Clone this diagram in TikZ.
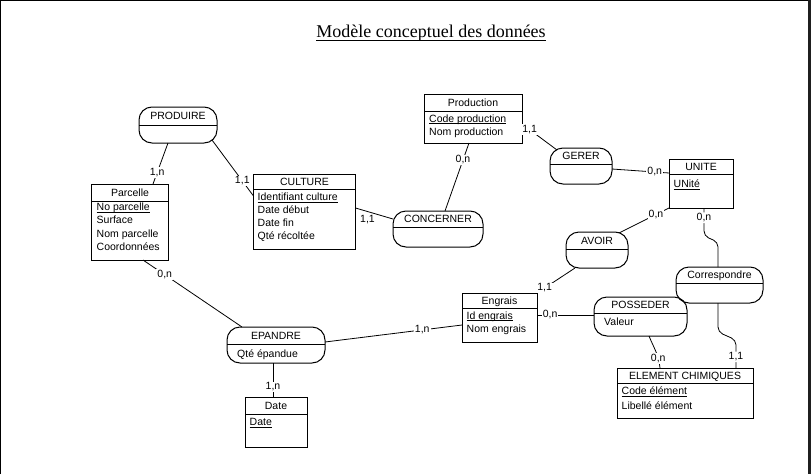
\documentclass[tikz,border=0pt]{standalone}
\usepackage{fontspec}
\setmainfont{Liberation Sans}
\newfontfamily\titlefont{Liberation Serif}
\newcommand\ul[1]{\setbox0\hbox{#1}\rlap{\rule[-2pt]{\wd0}{1.3pt}}\box0}
\newcommand\mkent[7]{%
  \node[ent, minimum width={#4-#2}, minimum height={#5-#3}] (#1) at (#2,#3) {};
  \draw[boxline] (#2,#6) -- (#4,#6);
  \node[hd] (#1-h) at ({(#2+#4)/2},{(#3+#6)/2+3.8}) {#7};}
\newcommand\mkasc[7]{%
  \node[asc, minimum width={#4-#2}, minimum height={#5-#3}] (#1) at (#2,#3) {};
  \draw[boxline] (#2,#6) -- (#4,#6);
  \node[hd] (#1-h) at ({(#2+#4)/2},{(#3+#6)/2+3.8}) {#7};}
\newcommand\mkatt[4]{\node[att] (#1) at (#2,{#3+3.8}) {#4};}
\begin{document}
\begin{tikzpicture}[x=1pt,y=-1pt,
  font=\fontsize{10.5}{12}\selectfont,
  boxline/.style={line width=1pt},
  ent/.style={draw, line width=1pt, inner sep=0pt, outer sep=0pt, anchor=north west},
  asc/.style={draw, line width=1pt, rounded corners=13pt, inner sep=0pt, outer sep=0pt, anchor=north west},
  lnk/.style={line width=0.8pt},
  card/.style={fill=white, inner sep=1pt},
  att/.style={anchor=base west, inner sep=0pt},
  hd/.style={anchor=base, inner sep=0pt}]
\useasboundingbox (0,0) rectangle (811,474);
% frame
\fill[black!88] (808,0) rectangle (811,474);
\draw[line width=1.2pt] (0.6,474) -- (0.6,0.6) -- (808,0.6);
% title
\node[anchor=base, inner sep=0pt, font=\titlefont\fontsize{18}{20}\selectfont] (title) at (431,37) {Modèle conceptuel des données};
\draw[line width=1.4pt] ([yshift=-3.7pt]title.base west) -- ([yshift=-3.7pt]title.base east);
% entities
\mkent{parc}{91.5}{184}{168.5}{260}{201}{Parcelle}
\mkatt{parc-a1}{96.5}{207}{\ul{No parcelle}}
\mkatt{parc-a2}{96.5}{220}{Surface}
\mkatt{parc-a3}{96.5}{233.5}{Nom parcelle}
\mkatt{parc-a4}{96.5}{246.5}{Coordonnées}
\mkent{cult}{253.5}{174}{355.5}{249.5}{189}{CULTURE}
\mkatt{cult-a1}{257.5}{197}{\ul{Identifiant culture}}
\mkatt{cult-a2}{257.5}{210}{Date début}
\mkatt{cult-a3}{257.5}{223}{Date fin}
\mkatt{cult-a4}{257.5}{236}{Qté récoltée}
\mkent{prod}{424}{94}{522}{143}{111}{Production}
\mkatt{prod-a1}{429}{118.5}{\ul{Code production}}
\mkatt{prod-a2}{429}{132}{Nom production}
\mkent{unite}{669}{159}{733}{208}{174}{UNITE}
\mkatt{unite-a1}{673.5}{184}{\ul{UNité}}
\mkent{engr}{462}{293}{537}{342}{308}{Engrais}
\mkatt{engr-a1}{466.5}{315.5}{\ul{Id engrais}}
\mkatt{engr-a2}{466.5}{329}{Nom engrais}
\mkent{elem}{617}{368}{753}{418}{383}{ELEMENT CHIMIQUES}
\mkatt{elem-a1}{621.5}{391}{\ul{Code élément}}
\mkatt{elem-a2}{621.5}{406}{Libellé élément}
\mkent{date}{245}{397}{307}{447}{414}{Date}
\mkatt{date-a1}{249.5}{422}{\ul{Date}}
% associations
\mkasc{produire}{139}{107}{217}{143}{125}{PRODUIRE}
\mkasc{concerner}{393}{211}{483}{247}{227}{CONCERNER}
\mkasc{gerer}{550}{148}{612}{184}{164}{GERER}
\mkasc{avoir}{566}{232}{628}{268}{249}{AVOIR}
\mkasc{corr}{676}{267}{763}{303}{283}{Correspondre}
\mkasc{poss}{594}{297}{687}{336}{313}{POSSEDER}
\mkatt{poss-a1}{604}{322}{Valeur}
\mkasc{epan}{227}{327}{325}{363}{344}{EPANDRE}
\mkatt{epan-a1}{237}{354}{Qté épandue}
% connectors
\draw[lnk] ([xshift=-10pt]produire.south) -- node[card,pos=0.72] (c1) {1,n} ([xshift=23pt]parc.north);
\draw[lnk] ([xshift=-5pt,yshift=3pt]produire.south east) -- node[card,pos=0.73] (c2) {1,1} ([yshift=-22pt]cult.north west);
\draw[lnk] ([yshift=-34pt]cult.north east) -- node[pos=0.32, below, inner sep=3pt] (c3) {1,1} ([yshift=-8pt]concerner.north west);
\draw[lnk] ([xshift=-4pt]prod.south) -- node[card,pos=0.25] (c4) {0,n} ([xshift=7pt]concerner.north);
\draw[lnk] ([yshift=-30pt]prod.north east) -- node[card,pos=0.22] (c5) {1,1} ([xshift=7pt,yshift=-2pt]gerer.north west);
\draw[lnk] ([yshift=-21pt]gerer.north east) -- node[card,pos=0.75] (c6) {0,n} ([yshift=-14pt]unite.north west);
\draw[lnk] (unite.south west) -- node[card,pos=0.26] (c7) {0,n} ([xshift=-9pt,yshift=-1pt]avoir.north east);
\draw[lnk] ([xshift=-22pt]avoir.south) -- node[card,pos=0.8] (c8) {1,1} (engr.north east);
\draw[lnk] ([yshift=-22pt]engr.north east) -- node[card,pos=0.23] (c9) {0,n} ([yshift=-18pt]poss.north west);
\draw[lnk] ([xshift=8.5pt]poss.south) to[out=-68,in=95] node[card,pos=0.72] (c10) {0,n} ([xshift=-25pt]elem.north);
\draw[lnk, rounded corners=5pt] ([xshift=3pt]unite.south) -- node[card,pos=0.35] (c11) {0,n} ++(0,28) -- ([xshift=-1.5pt,yshift=25pt]corr.north) -- ([xshift=-1.5pt]corr.north);
\draw[lnk, rounded corners=5pt] ([xshift=-1.5pt]corr.south) -- ++(0,29) -- ([xshift=51pt,yshift=28pt]elem.north) -- node[card,pos=0.6] (c12) {1,1} ([xshift=51pt]elem.north);
\draw[lnk] ([xshift=13pt]parc.south) -- node[card,pos=0.22] (c13) {0,n} ([xshift=15pt]epan.north west);
\draw[lnk] ([yshift=-15pt]epan.north east) -- node[card,pos=0.71] (c14) {1,n} ([yshift=-32pt]engr.north west);
\draw[lnk] ([xshift=-3pt]epan.south) -- node[card,pos=0.7] (c15) {1,n} ([xshift=-3pt]date.north);
\end{tikzpicture}
\end{document}
